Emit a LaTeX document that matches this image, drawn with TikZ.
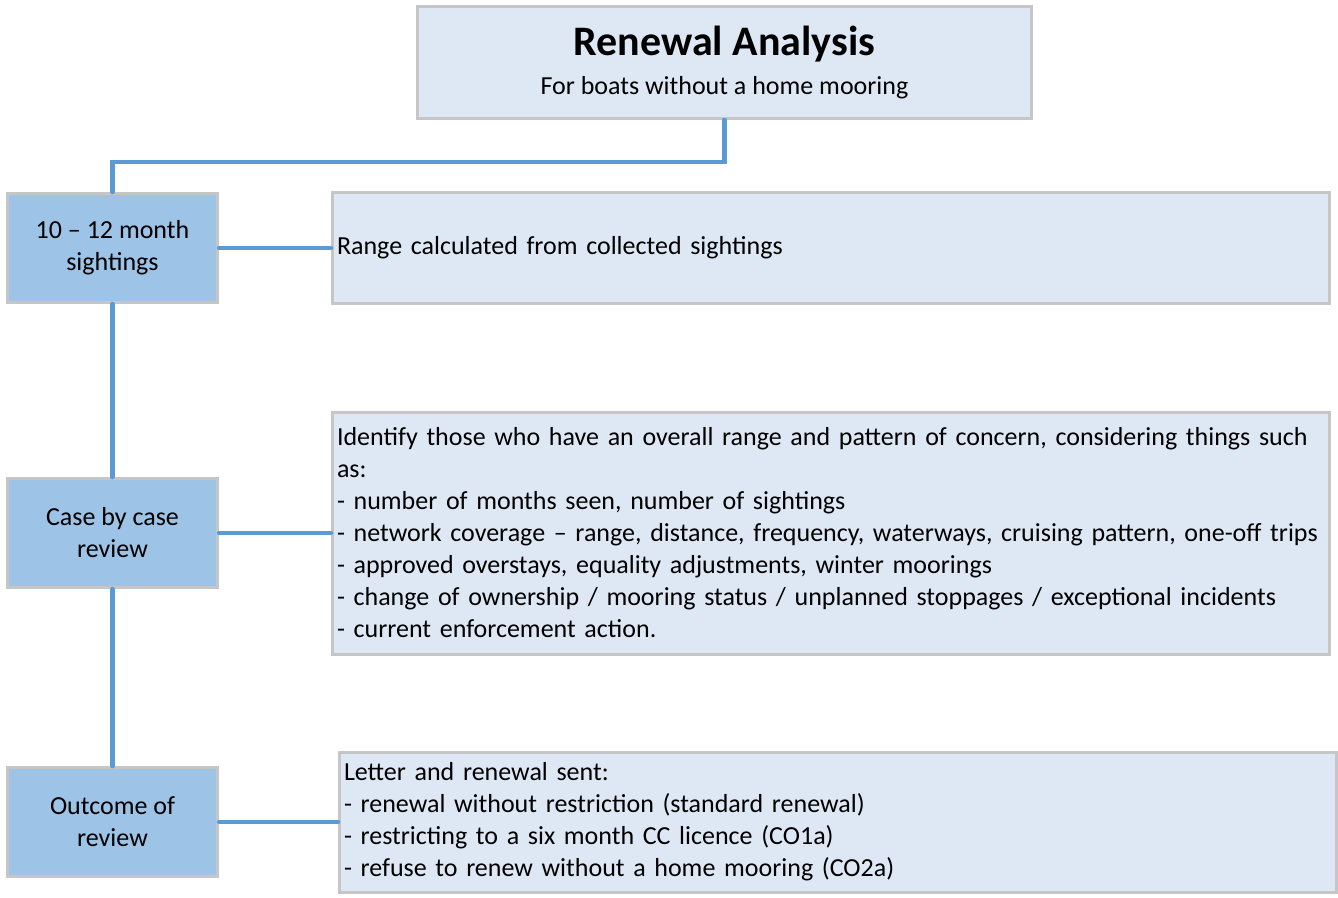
\documentclass[tikz,border=0pt]{standalone}
\usepackage{fontspec}
\setmainfont{Carlito}
\usepackage{xcolor}
\usetikzlibrary{positioning}
\definecolor{boxgray}{HTML}{C6C6C6}
\definecolor{palefill}{HTML}{DEE8F5}
\definecolor{stagefill}{HTML}{9DC3E6}
\definecolor{linkblue}{HTML}{5B9BD5}
\tikzset{
	x=1pt, y=-1pt,
	link/.style={draw=linkblue, line width=4.5pt, line cap=round},
	txt/.style={font=\fontsize{26}{32}\selectfont},
}
\tikzstyle{nbox} = [rectangle, draw=boxgray, line width=3pt, inner sep=0pt, txt]
\tikzstyle{stagebox} = [nbox, fill=stagefill, minimum width=210pt, minimum height=109pt, align=center]
\tikzstyle{infobox} = [nbox, fill=palefill, text width=988pt, inner xsep=4.5pt, align=left]

\begin{document}
\begin{tikzpicture}
	\useasboundingbox (0,0) rectangle (1338,897);
	
	\node[nbox, fill=palefill, minimum width=614pt, minimum height=112pt, align=center] (title) at (724.5,62.5)
	{{\bfseries\fontsize{42}{46}\selectfont Renewal Analysis}\\[7pt] For boats without a home mooring};
	
	\node[stagebox] (sight) at (112.5,248) {10 – 12 month\\sightings};
	\node[stagebox] (review) at (112.5,533) {Case by case\\review};
	\node[stagebox] (outcome) at (112.5,822) {Outcome of\\review};
	
	\node[infobox, minimum height=111pt] (range) [right=112pt of sight] {Range calculated from collected sightings};
	\node[infobox, minimum height=242pt] (concern) [right=112pt of review]
	{Identify those who have an overall range and pattern of concern, considering things such\\
	as:\\
	- number of months seen, number of sightings\\
	- network coverage – range, distance, frequency, waterways, cruising pattern, one-off trips\\
	- approved overstays, equality adjustments, winter moorings\\
	- change of ownership / mooring status / unplanned stoppages / exceptional incidents\\
	- current enforcement action.};
	\node[infobox, minimum height=140pt] (letter) [right=119pt of outcome]
	{Letter and renewal sent:\\
	- renewal without restriction (standard renewal)\\
	- restricting to a six month CC licence (CO1a)\\
	- refuse to renew without a home mooring (CO2a)};
	
	\draw[link] (title.south) -- ++(0,42) -| (sight.north);
	\draw[link] (sight) -- (review);
	\draw[link] (review) -- (outcome);
	\foreach \s/\t in {sight/range, review/concern, outcome/letter}
	\draw[link] (\s.east) -- (\t.west);
\end{tikzpicture}
\end{document}
